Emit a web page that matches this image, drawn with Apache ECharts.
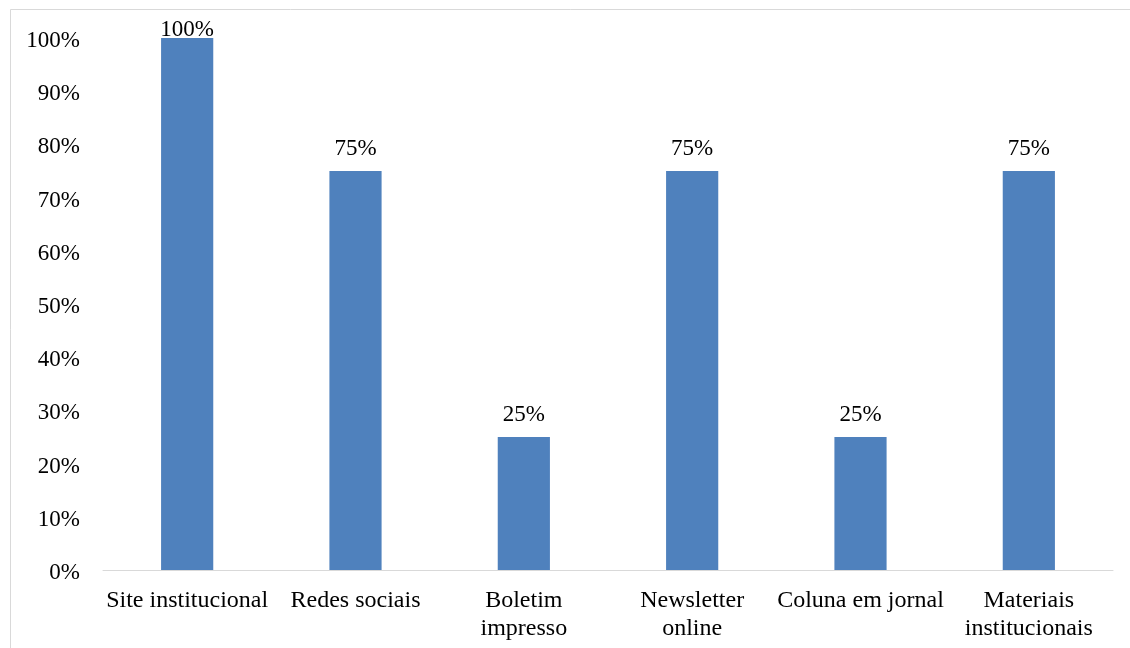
<!DOCTYPE html>
<html>
<head>
<meta charset="utf-8">
<script src="https://cdn.jsdelivr.net/npm/echarts@6/dist/echarts.min.js"></script>
<style>html,body{margin:0;padding:0;background:#fff;}#c{width:1130px;height:648px;}</style>
</head>
<body>
<div id="c"></div>
<script>
var categories = ['Site institucional', 'Redes sociais', 'Boletim\nimpresso', 'Newsletter\nonline', 'Coluna em jornal', 'Materiais\ninstitucionais'];
var values = [1.00, 0.75, 0.25, 0.75, 0.25, 0.75];
var yTicks = [0, 0.1, 0.2, 0.3, 0.4, 0.5, 0.6, 0.7, 0.8, 0.9, 1.0];

var font = '"Liberation Serif", "Times New Roman", serif';
var chart = echarts.init(document.getElementById('c'), null, {renderer: 'canvas'});
chart.setOption({
  animation: false,
  backgroundColor: '#fff',
  graphic: [{
    type: 'rect', shape: {x: 10.5, y: 9.5, width: 1200, height: 700},
    style: {fill: 'none', stroke: '#d9d9d9', lineWidth: 1}, silent: true
  }],
  grid: {left: 103, right: 17, top: 38, bottom: 78},
  xAxis: {
    type: 'category', data: categories,
    axisLine: {lineStyle: {color: '#d9d9d9', width: 1}},
    axisTick: {show: false},
    axisLabel: {color: '#000', fontFamily: font, fontSize: 24, margin: 17, lineHeight: 28, interval: 0}
  },
  yAxis: {
    type: 'value', min: 0, max: 1, interval: 0.1,
    axisLine: {show: false}, axisTick: {show: false}, splitLine: {show: false},
    axisLabel: {color: '#000', fontFamily: font, fontSize: 23, margin: 23,
      formatter: function (v) { return '{a|' + Math.round(v * 100) + '%}'; },
      rich: {a: {color: '#000', fontFamily: font, fontSize: 23, padding: [6, 0, 0, 0]}}}
  },
  series: [{
    type: 'bar', barWidth: '31%',
    itemStyle: {color: '#4f81bd'},
    data: values.map(function (v, i) {
      return {value: v, label: {distance: v >= 1 ? -3 : 11}};
    }),
    label: {show: true, position: 'top', color: '#000', fontFamily: font, fontSize: 23,
      formatter: function (p) { return Math.round(p.value * 100) + '%'; }}
  }]
});
</script>
</body>
</html>
